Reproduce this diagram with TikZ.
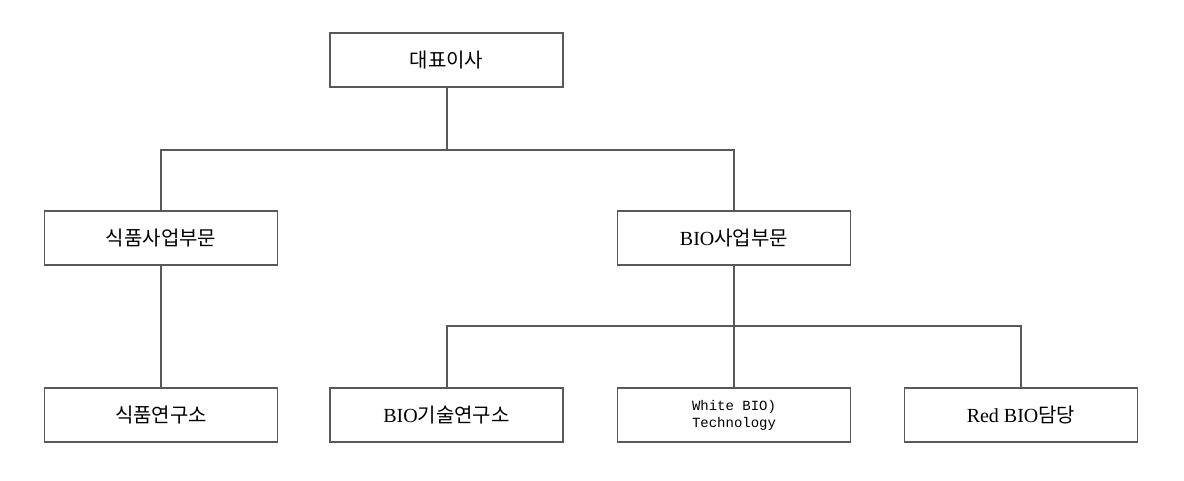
\documentclass[tikz,border=0pt]{standalone}
\usepackage{fontspec}
\setmainfont{Liberation Serif}
\newfontfamily\kr{Noto Sans CJK KR}
\newfontfamily\mono{Liberation Mono}
\begin{document}
\begin{tikzpicture}[x=1pt,y=-1pt,
  box/.style={draw=black!65,line width=1.6pt,minimum width=233pt,minimum height=54pt,inner sep=0pt,font=\fontsize{20}{22}\selectfont},
  ln/.style={draw=black!65,line width=2pt}]
\useasboundingbox (0,0) rectangle (1184,480);
\node[box] (ceo) at (446.5,60) {\kr 대표이사};
\node[box] (food) at (161,238) {\kr 식품사업부문};
\node[box] (bio) at (734,238) {BIO{\kr 사업부문}};
\node[box] (flab) at (161,415) {\kr 식품연구소};
\node[box] (blab) at (446.5,415) {BIO{\kr 기술연구소}};
\node[box,align=center,font=\mono\fontsize{14}{17}\selectfont] (white) at (734,415) {White BIO)\\Technology};
\node[box] (red) at (1021,415) {Red BIO{\kr 담당}};
\coordinate (j1) at (446.5,150);
\coordinate (j2) at (734,326);
\draw[ln] (ceo.south) -- (j1);
\draw[ln] (food.north) |- (j1) -| (bio.north);
\draw[ln] (food.south) -- (flab.north);
\draw[ln] (bio.south) -- (white.north);
\draw[ln] (blab.north) |- (j2) -| (red.north);
\end{tikzpicture}
\end{document}
